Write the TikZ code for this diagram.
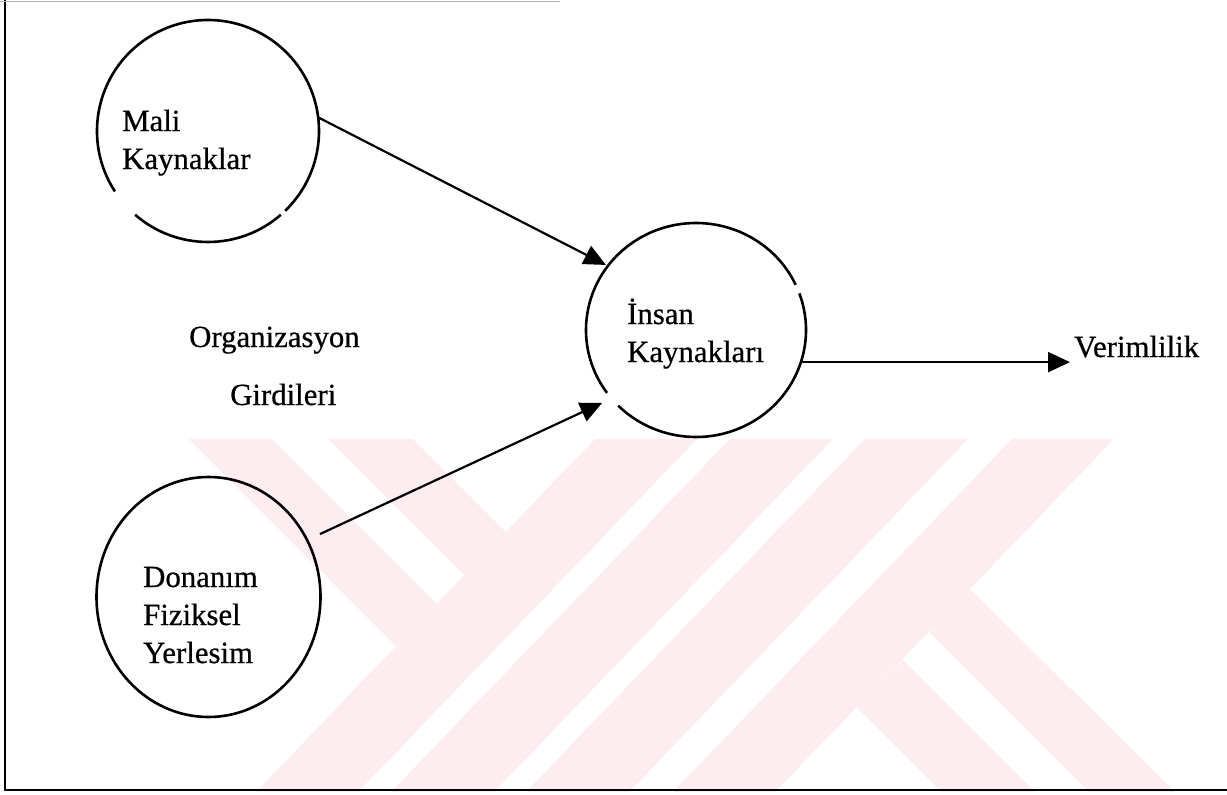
\documentclass[tikz,border=0pt]{standalone}
\usepackage{fontspec}
\setmainfont{Liberation Serif}
\newfontfamily\lblfont{Liberation Serif}[FakeBold=0.6]
\usetikzlibrary{arrows.meta,shapes.geometric}
\definecolor{wm}{RGB}{253,236,240}
\begin{document}
\begin{tikzpicture}[x=1pt,y=-1pt,
  circ/.style={ellipse,inner sep=0pt},
  cline/.style={line width=2.6pt},
  lbl/.style={font=\lblfont\fontsize{30.8}{38}\selectfont,align=left,inner sep=0pt,anchor=base west},
  arr/.style={line width=2.2pt,-{Triangle[length=22pt,width=20pt]}},
  framel/.style={line width=2.5pt}]
\useasboundingbox (0,0) rectangle (1227,795);
% watermark
\begin{scope}
\clip (0,439) rectangle (1227,795);
\fill[wm] (189,439) -- (272,439) -- (451,618) -- (410,660) -- cycle;
\fill[wm] (328,439) -- (413,439) -- (520,546) -- (478,589) -- cycle;
\fill[wm] (595,439) -- (697,439) -- (358,792) -- (256,792) -- cycle;
\fill[wm] (730,439) -- (833,439) -- (494,792) -- (391,792) -- cycle;
\fill[wm] (865,439) -- (968,439) -- (629,792) -- (526,792) -- cycle;
\fill[wm] (1012,439) -- (1114,439) -- (775,792) -- (673,792) -- cycle;
\fill[wm] (971,590) -- (1175,792) -- (1089,792) -- (930,633) -- (950,600) -- cycle;
\fill[wm] (903,660) -- (1035,792) -- (941,792) -- (856,707) -- cycle;
\end{scope}
% frame
\draw[framel] (5,0) -- (5,790) -- (1227,790);
\draw[gray!60,line width=1pt] (0,1) -- (560,1);
% circles (named nodes, outlines drawn as arcs with the scan gaps)
\node[circ,minimum width=222pt,minimum height=222pt] (mali) at (208,131) {};
\node[circ,minimum width=220pt,minimum height=214pt] (insan) at (696,330) {};
\node[circ,minimum width=224pt,minimum height=240pt] (don) at (208.5,597) {};
\draw[cline] ([shift={(49:111 and 111)}]mali.center) arc[start angle=49,end angle=131,x radius=111,y radius=111];
\draw[cline] ([shift={(147:111 and 111)}]mali.center) arc[start angle=147,end angle=406,x radius=111,y radius=111];
\draw[cline] ([shift={(-20:110 and 107)}]insan.center) arc[start angle=-20,end angle=135,x radius=110,y radius=107];
\draw[cline] ([shift={(144:110 and 107)}]insan.center) arc[start angle=144,end angle=335,x radius=110,y radius=107];
\draw[cline] (don.center) ellipse[x radius=112,y radius=120];
% labels
\node[lbl] (malitxt) at (122,169) {Mali\\Kaynaklar};
\node[lbl] (insantxt) at (627,362) {İnsan\\Kaynakları};
\node[lbl] (dontxt) at (143,663) {Donanım\\Fiziksel\\Yerlesim};
\node[lbl] (org1) at (189,347) {Organizasyon};
\node[lbl] (org2) at (230,405) {Girdileri};
\node[lbl,inner sep=2pt] (verim) at (1072,357) {Verimlilik};
% connectors
\draw[arr,shorten >=2pt] (mali.7) -- (insan.144);
\draw[arr,shorten <=14pt,shorten >=10pt] (don.30) -- (insan.219);
\draw[arr,shorten >=2pt] (insan.-17) -- (insan.-17 -| verim.west);
\end{tikzpicture}
\end{document}
